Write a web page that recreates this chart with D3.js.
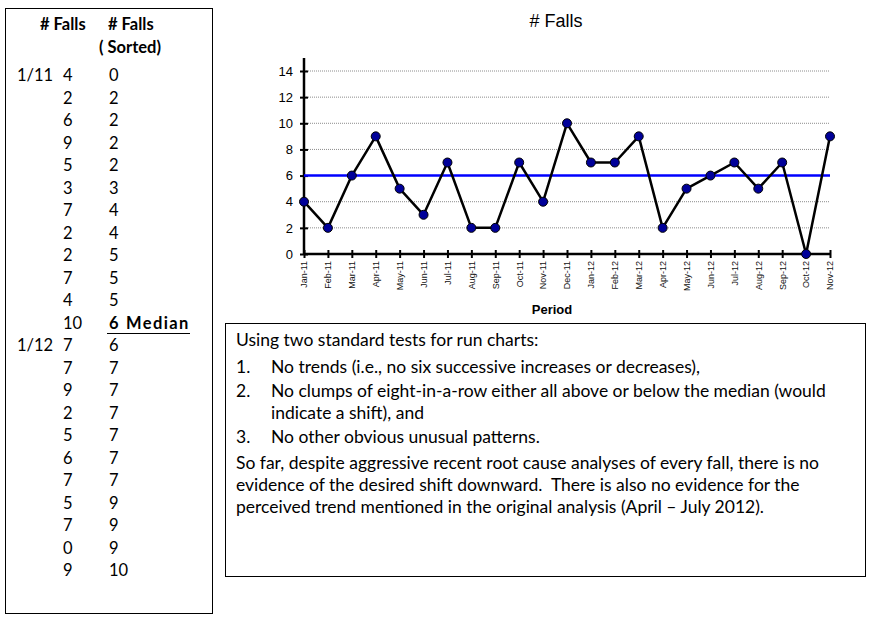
<!DOCTYPE html>
<html>
<head>
<meta charset="utf-8">
<script src="https://cdn.jsdelivr.net/npm/d3@7"></script>
<style>
  body { margin: 0; background: #fff; }
  svg { display: block; }
  .tbl { font-family: Lato, "Open Sans", sans-serif; font-size: 16.5px; fill: #000; }
  .note { font-family: Lato, "Open Sans", sans-serif; font-size: 17.5px; fill: #000; }
  .ax text { font-family: Arial, "Liberation Sans", sans-serif; }
</style>
</head>
<body>
<div id="chart"></div>
<script>

// Monthly falls, Jan-11 .. Nov-12
var months = ['Jan-11','Feb-11','Mar-11','Apr-11','May-11','Jun-11','Jul-11','Aug-11','Sep-11','Oct-11','Nov-11','Dec-11',
              'Jan-12','Feb-12','Mar-12','Apr-12','May-12','Jun-12','Jul-12','Aug-12','Sep-12','Oct-12','Nov-12'];
var falls = [4,2,6,9,5,3,7,2,2,7,4,10,7,7,9,2,5,6,7,5,7,0,9];
var fallsSorted = [0,2,2,2,2,3,4,4,5,5,5,6,6,7,7,7,7,7,7,9,9,9,10];
var median = 6;
var medianRow = 11;
var yearLabels = [ {row: 0, text: '1/11'}, {row: 12, text: '1/12'} ];
var yTicks = [0,2,4,6,8,10,12,14];

var width = 875,
	height = 621;

var svg = d3.select('#chart').append('svg')
	.attr('width', width)
	.attr('height', height);

svg.append('rect')
	.attr('width', width)
	.attr('height', height)
	.attr('fill', '#fff');

// ---- Left table ----
var tbl = svg.append('g').attr('class', 'tbl');

tbl.append('rect')
	.attr('x', 5.5).attr('y', 8.5)
	.attr('width', 207).attr('height', 605)
	.attr('fill', 'none').attr('stroke', '#000').attr('stroke-width', 1);

tbl.append('text').attr('x', 40).attr('y', 30).attr('font-weight', 'bold').text('# Falls');
tbl.append('text').attr('x', 108).attr('y', 30).attr('font-weight', 'bold').text('# Falls');
tbl.append('text').attr('x', 99).attr('y', 53).attr('font-weight', 'bold').text('( Sorted)');

var row = d3.scaleLinear().domain([0, falls.length - 1]).range([81, 576]);

tbl.selectAll('text.yr')
	.data(yearLabels)
	.join('text')
		.attr('class', 'yr')
		.attr('x', 17)
		.attr('y', function(d) { return row(d.row); })
		.text(function(d) { return d.text; });

tbl.selectAll('text.raw')
	.data(falls)
	.join('text')
		.attr('class', 'raw')
		.attr('x', 63)
		.attr('y', function(d, i) { return row(i); })
		.text(function(d) { return d; });

tbl.selectAll('text.srt')
	.data(fallsSorted)
	.join('text')
		.attr('class', 'srt')
		.attr('x', 109)
		.attr('y', function(d, i) { return row(i); })
		.attr('font-weight', function(d, i) { return i === medianRow ? 'bold' : null; })
		.text(function(d) { return d; });

tbl.append('text')
	.attr('x', 126)
	.attr('y', row(medianRow))
	.attr('font-weight', 'bold')
	.attr('letter-spacing', 1.4)
	.text('Median');

tbl.append('line')
	.attr('x1', 107).attr('x2', 190)
	.attr('y1', row(medianRow) + 5).attr('y2', row(medianRow) + 5)
	.attr('stroke', '#000').attr('stroke-width', 1.2);

// ---- Run chart ----
var x = d3.scalePoint().domain(months).range([304, 830]);
var y = d3.scaleLinear().domain([0, 14]).range([254, 71]);
var yTop = 58;

var chart = svg.append('g');

chart.append('text')
	.attr('x', 556).attr('y', 27)
	.attr('text-anchor', 'middle')
	.attr('font-family', 'Arial, "Liberation Sans", sans-serif')
	.attr('font-size', 18)
	.text('# Falls');

// dotted gridlines
chart.selectAll('line.grid')
	.data(yTicks.filter(function(d) { return d > 0; }))
	.join('line')
		.attr('class', 'grid')
		.attr('x1', x.range()[0]).attr('x2', x.range()[1])
		.attr('y1', function(d) { return y(d); })
		.attr('y2', function(d) { return y(d); })
		.attr('stroke', '#8c8c8c')
		.attr('stroke-width', 1)
		.attr('stroke-dasharray', '1,1');

// y axis
var yAxis = chart.append('g')
	.attr('class', 'ax')
	.attr('transform', 'translate(' + x.range()[0] + ',0)')
	.call(d3.axisLeft(y).tickValues(yTicks).tickSize(4).tickPadding(7));
yAxis.select('.domain').remove();
yAxis.selectAll('.tick line').attr('x1', -4).attr('x2', 4).attr('stroke-width', 2);
yAxis.selectAll('.tick text')
	.style('font-size', '13px')
	.attr('fill', '#000');
yAxis.append('line')
	.attr('y1', yTop).attr('y2', y(0))
	.attr('stroke', '#000').attr('stroke-width', 2.5);

// x axis
var xAxis = chart.append('g')
	.attr('class', 'ax')
	.attr('transform', 'translate(0,' + y(0) + ')')
	.call(d3.axisBottom(x).tickSize(4).tickPadding(6));
xAxis.select('.domain').remove();
xAxis.selectAll('.tick line').attr('y1', -4).attr('y2', 4).attr('stroke-width', 2);
xAxis.selectAll('.tick text')
	.style('font-size', '9px')
	.attr('fill', '#111')
	.attr('text-anchor', 'end')
	.attr('dy', '0.32em')
	.attr('transform', 'translate(0,7) rotate(-90)')
	.attr('x', 0).attr('y', 0);
xAxis.append('line')
	.attr('x1', x.range()[0]).attr('x2', x.range()[1])
	.attr('stroke', '#000').attr('stroke-width', 2.5);

chart.append('text')
	.attr('x', 552).attr('y', 314)
	.attr('text-anchor', 'middle')
	.attr('font-family', 'Arial, "Liberation Sans", sans-serif')
	.attr('font-size', 13)
	.attr('font-weight', 'bold')
	.text('Period');

// median line
chart.append('line')
	.attr('x1', x.range()[0]).attr('x2', x.range()[1])
	.attr('y1', y(median)).attr('y2', y(median))
	.attr('stroke', '#0000ff').attr('stroke-width', 2.5);

// data line
var line = d3.line()
	.x(function(d, i) { return x(months[i]); })
	.y(function(d) { return y(d); });

chart.append('path')
	.datum(falls)
	.attr('d', line)
	.attr('fill', 'none')
	.attr('stroke', '#000')
	.attr('stroke-width', 2.5)
	.attr('stroke-linejoin', 'round');

chart.selectAll('circle.pt')
	.data(falls)
	.join('circle')
		.attr('class', 'pt')
		.attr('cx', function(d, i) { return x(months[i]); })
		.attr('cy', function(d) { return y(d); })
		.attr('r', 4.5)
		.attr('fill', '#000099')
		.attr('stroke', '#000')
		.attr('stroke-width', 1);

// ---- Notes box ----
var note = svg.append('g').attr('class', 'note');

note.append('rect')
	.attr('x', 225.5).attr('y', 323.5)
	.attr('width', 640).attr('height', 253)
	.attr('fill', 'none').attr('stroke', '#000').attr('stroke-width', 1);

var noteLines = [
	{ y: 346, num: null, text: 'Using two standard tests for run charts:' },
	{ y: 373, num: '1.', text: 'No trends (i.e., no six successive increases or decreases),' },
	{ y: 397, num: '2.', text: 'No clumps of eight-in-a-row either all above or below the median (would' },
	{ y: 419, num: null, indent: true, text: 'indicate a shift), and' },
	{ y: 443, num: '3.', text: 'No other obvious unusual patterns.' },
	{ y: 469, num: null, text: 'So far, despite aggressive recent root cause analyses of every fall, there is no' },
	{ y: 491, num: null, text: 'evidence of the desired shift downward.  There is also no evidence for the' },
	{ y: 513, num: null, text: 'perceived trend mentioned in the original analysis (April \u2013 July 2012).' }
];

noteLines.forEach(function(d) {
	if (d.num) {
		note.append('text').attr('x', 236).attr('y', d.y).text(d.num);
	}
	note.append('text')
		.attr('x', (d.num || d.indent) ? 271 : 236)
		.attr('y', d.y)
		.attr('xml:space', 'preserve')
		.text(d.text);
});

</script>
</body>
</html>
